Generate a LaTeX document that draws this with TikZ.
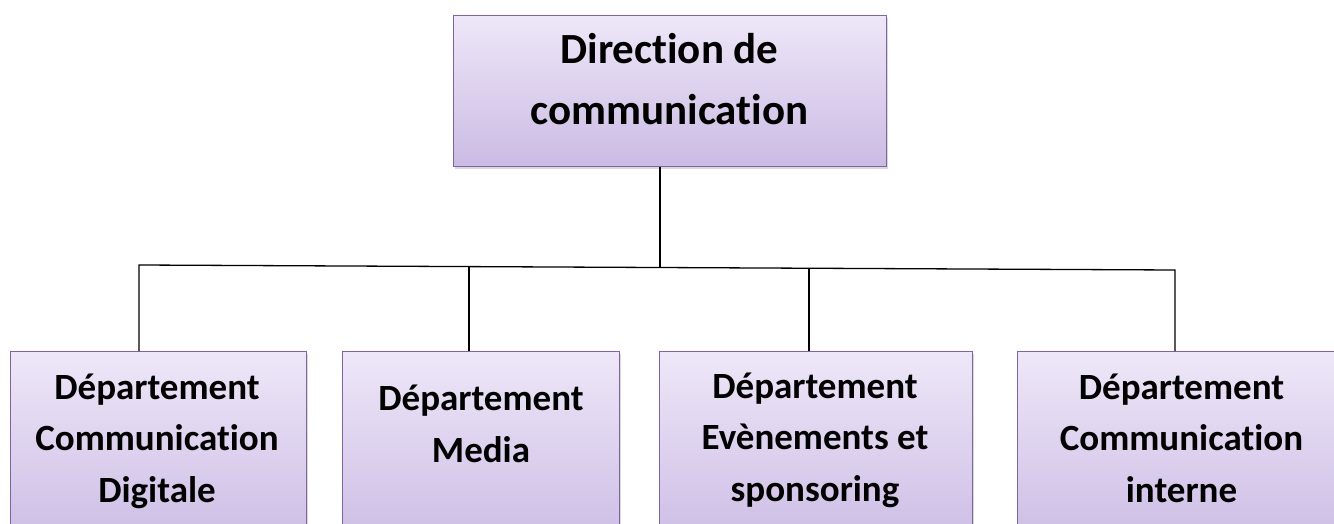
\documentclass[tikz,border=0pt]{standalone}
\usepackage{fontspec}
\setmainfont[Ligatures=NoCommon]{Carlito}
\usetikzlibrary{shadows}
\definecolor{boxtop}{RGB}{238,231,248}
\definecolor{boxbot}{RGB}{203,187,228}
\definecolor{boxline}{RGB}{128,100,162}
\tikzset{
  orgbox/.style={draw=boxline, line width=1.3pt, top color=boxtop, bottom color=boxbot,
    rectangle, inner sep=0pt, anchor=north west,
    drop shadow={shadow xshift=1.5pt, shadow yshift=-2.5pt, opacity=0.3}},
  toplbl/.style={font=\fontsize{43}{62}\selectfont\bfseries, align=center, anchor=base, inner sep=0pt},
  deplbl/.style={font=\fontsize{37}{51.5}\selectfont\bfseries, align=center, anchor=base, inner sep=0pt},
  link/.style={draw=black, line width=1.3pt}
}
\begin{document}
\begin{tikzpicture}[x=1pt,y=-1pt]
\useasboundingbox (0,0) rectangle (1334,524);
\clip (0,0) rectangle (1334,524);
% boxes
\node[orgbox, minimum width=433pt, minimum height=151pt] (top) at (453,15) {};
\node[orgbox, minimum width=296pt, minimum height=200pt] (d1) at (10,351) {};
\node[orgbox, minimum width=277pt, minimum height=200pt] (d2) at (342,351) {};
\node[orgbox, minimum width=313pt, minimum height=200pt] (d3) at (659,351) {};
\node[orgbox, minimum width=329pt, minimum height=200pt] (d4) at (1017,351) {};
% labels (anchor = baseline of last line)
\node[toplbl] (topt) at (669.5,125) {Direction de\\communication};
\node[deplbl] (d1t) at (157,502) {Département\\Communication\\Digitale};
\node[deplbl] (d2t) at (481,462) {Département\\Media};
\node[deplbl] (d3t) at (815,501) {Département\\Evènements et\\sponsoring};
\node[deplbl] (d4t) at (1181.5,502) {Département\\Communication\\interne};
% junctions
\coordinate (j1) at (139,265);
\coordinate (j2) at (469,266.5);
\coordinate (j0) at (660,267.5);
\coordinate (j3) at (809,268.5);
\coordinate (j4) at (1175,270);
\draw[link] (top.south -| j0) -- (j0);
\draw[link] (j1 |- d1.north) -- (j1) -- (j4) -- (j4 |- d4.north);
\draw[link] (j2) -- (j2 |- d2.north);
\draw[link] (j3) -- (j3 |- d3.north);
\end{tikzpicture}
\end{document}
